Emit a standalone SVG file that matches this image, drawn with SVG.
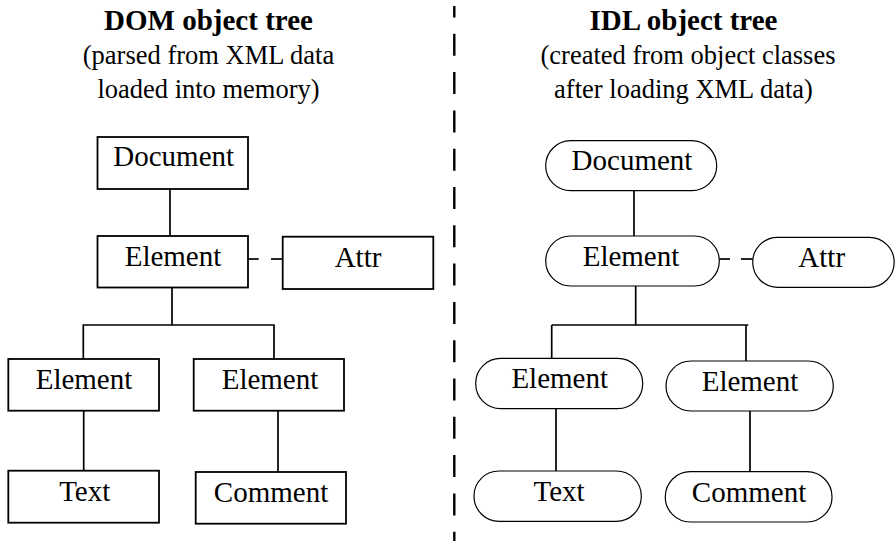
<svg xmlns="http://www.w3.org/2000/svg" width="895" height="541" viewBox="0 0 895 541">
<style>
text{font-family:"Liberation Serif","Times New Roman",serif;fill:#000;text-anchor:middle}
.title{font-size:29px;font-weight:bold}
.sub{font-size:26.5px}
.lbl{font-size:29px}
.box{fill:#fff;stroke:#000;stroke-width:1.8}
.pill{fill:#fff;stroke:#000;stroke-width:1.2}
.ln{stroke:#000;stroke-width:1.7;fill:none}
.div{stroke:#000;stroke-width:2.4;stroke-dasharray:22 16.3;stroke-dashoffset:10.5}
</style>
<rect width="895" height="541" fill="#fff"/>
<g id="headings">
<text class="title" x="208.5" y="30">DOM object tree</text>
<text class="sub" x="208.5" y="64">(parsed from XML data</text>
<text class="sub" x="208.5" y="98">loaded into memory)</text>
<text class="title" x="683.5" y="30">IDL object tree</text>
<text class="sub" x="688" y="64">(created from object classes</text>
<text class="sub" x="683.5" y="98">after loading XML data)</text>
</g>
<line id="divider" class="div" x1="454.3" y1="6" x2="454.3" y2="541"/>
<g id="connectors">
<line class="ln" x1="170" y1="189" x2="170" y2="236"/>
<line class="ln" x1="248" y1="259" x2="258.7" y2="259"/>
<line class="ln" x1="271" y1="259" x2="282.7" y2="259"/>
<line class="ln" x1="172" y1="288" x2="172" y2="325"/>
<polyline class="ln" points="83.3,359 83.3,325 274,325 274,359"/>
<line class="ln" x1="83.7" y1="410.7" x2="83.7" y2="470.7"/>
<line class="ln" x1="278" y1="410.7" x2="278" y2="472"/>
<line class="ln" x1="634" y1="190.7" x2="634" y2="236"/>
<line class="ln" x1="719.3" y1="259" x2="730" y2="259"/>
<line class="ln" x1="741" y1="259" x2="752.7" y2="259"/>
<line class="ln" x1="635.7" y1="286" x2="635.7" y2="325"/>
<line class="ln" x1="551.7" y1="325" x2="748.3" y2="325"/>
<line class="ln" x1="551.7" y1="325" x2="551.7" y2="358.3"/>
<line class="ln" x1="746" y1="325" x2="746" y2="361"/>
<line class="ln" x1="556" y1="408.7" x2="556" y2="471"/>
<line class="ln" x1="750" y1="407.7" x2="750" y2="474.3"/>
</g>
<g id="dom-document"><rect class="box" x="97.5" y="137" width="150.5" height="52"/><text class="lbl" x="173.7" y="166">Document</text></g>
<g id="dom-element"><rect class="box" x="97.5" y="236" width="150.5" height="51.5"/><text class="lbl" x="173" y="266">Element</text></g>
<g id="dom-attr"><rect class="box" x="282.7" y="236.7" width="150.6" height="52.3"/><text class="lbl" x="358" y="266.7">Attr</text></g>
<g id="dom-element-left"><rect class="box" x="8.3" y="359" width="150.7" height="51.7"/><text class="lbl" x="84" y="389">Element</text></g>
<g id="dom-element-right"><rect class="box" x="193.7" y="359" width="150.3" height="51.7"/><text class="lbl" x="270" y="389">Element</text></g>
<g id="dom-text"><rect class="box" x="8.3" y="470.7" width="150.7" height="52"/><text class="lbl" x="84.7" y="501">Text</text></g>
<g id="dom-comment"><rect class="box" x="195.7" y="472" width="150.3" height="51.7"/><text class="lbl" x="271" y="501.7">Comment</text></g>
<g id="idl-document"><rect class="pill" x="545.7" y="140.7" width="171" height="50" rx="25"/><text class="lbl" x="632" y="170">Document</text></g>
<g id="idl-element"><rect class="pill" x="545.7" y="236" width="173.6" height="50" rx="25"/><text class="lbl" x="631" y="265.7">Element</text></g>
<g id="idl-attr"><rect class="pill" x="752.7" y="237.3" width="141.5" height="50" rx="25"/><text class="lbl" x="821.7" y="266.7">Attr</text></g>
<g id="idl-element-left"><rect class="pill" x="475.7" y="358.3" width="167" height="50.4" rx="25"/><text class="lbl" x="559.7" y="388">Element</text></g>
<g id="idl-element-right"><rect class="pill" x="666" y="361" width="167.3" height="50" rx="25"/><text class="lbl" x="750" y="391">Element</text></g>
<g id="idl-text"><rect class="pill" x="474" y="471" width="167.3" height="50.3" rx="25"/><text class="lbl" x="559" y="501">Text</text></g>
<g id="idl-comment"><rect class="pill" x="665.3" y="471.7" width="166.7" height="50.3" rx="25"/><text class="lbl" x="749" y="501.7">Comment</text></g>
</svg>
